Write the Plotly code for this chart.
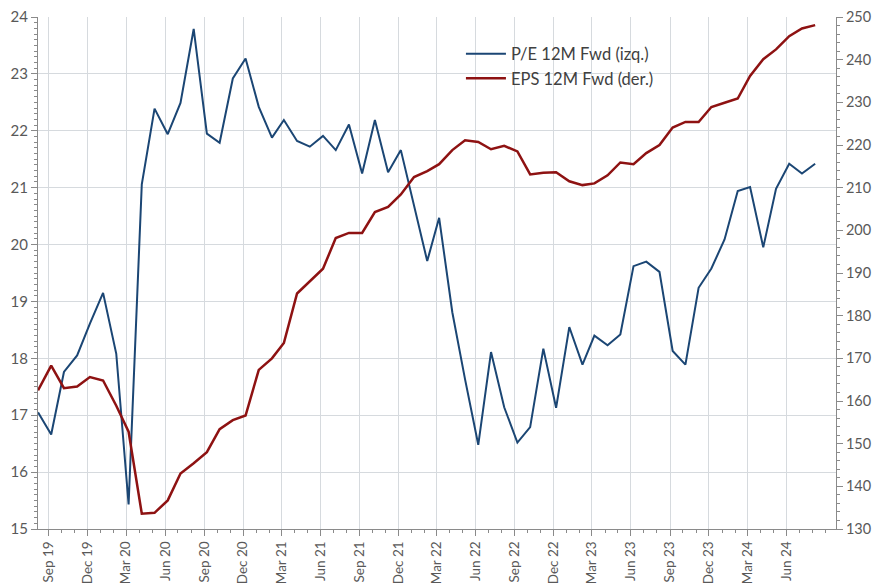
import pandas as pd
import plotly.graph_objects as go

# Monthly observations, Aug 2019 .. Aug 2024
start_month = "2019-08-01"
n_obs = 61

pe_12m_fwd = [
    17.05, 16.66, 17.76, 18.05, 18.61, 19.15, 18.08, 15.43, 21.06, 22.39, 21.94, 22.49,
    23.79, 21.95, 21.79, 22.92, 23.27, 22.42, 21.88, 22.19, 21.82, 21.72, 21.91, 21.66,
    22.11, 21.25, 22.19, 21.27, 21.66, 20.66, 19.71, 20.47, 18.81, 17.63, 16.48, 18.11,
    17.14, 16.52, 16.79, 18.17, 17.13, 18.55, 17.89, 18.40, 18.23, 18.42, 19.62, 19.70,
    19.52, 18.13, 17.89, 19.24, 19.58, 20.09, 20.94, 21.01, 19.95, 20.98, 21.42, 21.25,
    21.42,
]

eps_12m_fwd = [
    162.5, 168.3, 163.0, 163.4, 165.6, 164.8, 158.9, 152.8, 133.6, 133.8, 136.7, 143.0,
    145.4, 148.0, 153.4, 155.5, 156.6, 167.3, 170.0, 173.6, 185.2, 188.1, 191.0, 198.2,
    199.4, 199.4, 204.3, 205.5, 208.4, 212.5, 213.9, 215.5, 218.8, 221.1, 220.7, 219.0,
    219.8, 218.5, 213.1, 213.5, 213.6, 211.5, 210.6, 211.0, 212.9, 215.9, 215.5, 218.1,
    220.0, 224.1, 225.4, 225.4, 228.9, 229.9, 230.9, 236.2, 240.1, 242.4, 245.5, 247.3,
    248.1,
]

# Quarterly tick labels shown on the x axis
tick_months = pd.date_range("2019-09-01", "2024-06-01", freq="3MS")

series_names = ["P/E 12M Fwd (izq.)", "EPS 12M Fwd (der.)"]
series_colors = ["#1b4674", "#8e1212"]

dates = pd.date_range(start_month, periods=n_obs, freq="MS") + pd.Timedelta(days=6)

font_family = "Lato, sans-serif"
tick_color = "#595959"
axis_color = "#8a8a8a"
grid_color = "#d6dade"

fig = go.Figure()
fig.add_trace(go.Scatter(
    x=dates, y=pe_12m_fwd, name=series_names[0], mode="lines",
    line=dict(color=series_colors[0], width=2), yaxis="y",
))
fig.add_trace(go.Scatter(
    x=dates, y=eps_12m_fwd, name=series_names[1], mode="lines",
    line=dict(color=series_colors[1], width=2.5), yaxis="y2",
))

fig.update_layout(
    width=873, height=585,
    margin=dict(l=38, r=37, t=17, b=56),
    paper_bgcolor="white", plot_bgcolor="white",
    font=dict(family=font_family, color=tick_color, size=15),
    showlegend=True,
    legend=dict(
        x=0.530, y=0.962, xanchor="left", yanchor="top",
        bgcolor="rgba(0,0,0,0)", font=dict(family=font_family, size=16.5, color="#404040"),
        tracegroupgap=0, itemwidth=40,
    ),
    xaxis=dict(
        type="date", automargin=False,
        range=["2019-08-07", "2024-09-25"],
        tickmode="array", tickvals=list(tick_months),
        ticktext=[d.strftime("%b %y") for d in tick_months],
        tickangle=-90, tickfont=dict(size=13.5, color=tick_color),
        showgrid=True, gridcolor=grid_color, gridwidth=1,
        showline=True, linecolor=axis_color, linewidth=1,
        ticks="outside", ticklen=6, tickcolor=axis_color,
        minor=dict(dtick="M1", tick0="2019-09-01", ticks="outside", ticklen=3,
                   tickcolor=axis_color, showgrid=False),
        zeroline=False,
    ),
    yaxis=dict(
        automargin=False,
        range=[15, 24], dtick=1, tick0=15,
        tickfont=dict(size=15, color=tick_color),
        showgrid=True, gridcolor=grid_color, gridwidth=1,
        showline=True, linecolor=axis_color, linewidth=1,
        ticks="outside", ticklen=6, tickcolor=axis_color,
        minor=dict(dtick=0.1, ticks="outside", ticklen=3, tickcolor=axis_color, showgrid=False),
        zeroline=False,
    ),
    yaxis2=dict(
        automargin=False,
        range=[130, 250], dtick=10, tick0=130,
        overlaying="y", side="right",
        tickfont=dict(size=14.5, color=tick_color),
        showgrid=False,
        showline=True, linecolor=axis_color, linewidth=1,
        ticks="outside", ticklen=6, tickcolor=axis_color,
        minor=dict(dtick=2, ticks="outside", ticklen=3, tickcolor=axis_color, showgrid=False),
        zeroline=False,
    ),
)

fig.write_html(
    "out.html",
    config={"displayModeBar": False},
    post_script="document.body.style.margin='0';document.body.style.overflow='hidden';",
)
